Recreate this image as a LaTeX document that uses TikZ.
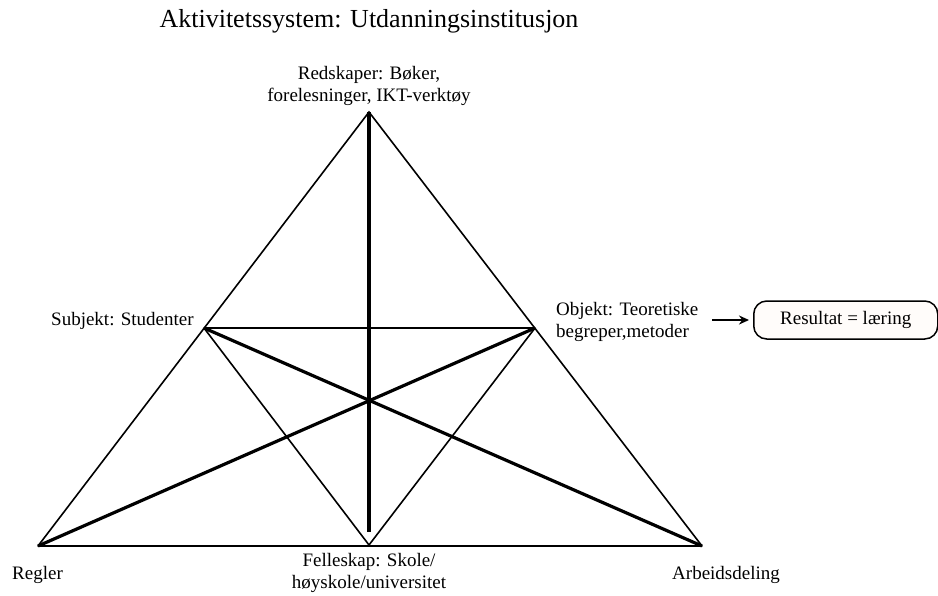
\documentclass[tikz,border=0pt]{standalone}
\usepackage{fontspec}
\setmainfont{Liberation Serif}
\usetikzlibrary{arrows.meta}
\begin{document}
\begin{tikzpicture}[x=1pt,y=-1pt,
  thinline/.style={line width=1.6pt,line cap=round},
  midline/.style={line width=2.2pt},
  thickline/.style={line width=3.2pt},
  lbl/.style={inner sep=0pt,font=\fontsize{19}{22}\selectfont,align=center},
  lbll/.style={lbl,align=left},
  resbox/.style={draw,line width=1.5pt,rounded corners=13pt,fill=red!2!orange!2!white,
    minimum width=184pt,minimum height=38pt,inner sep=0pt,font=\fontsize{19}{22}\selectfont}]
\useasboundingbox (0,0) rectangle (938,595);
% corners of the activity triangle
\coordinate (T) at (369,112);
\coordinate (L) at (38,546);
\coordinate (R) at (702,546);
\coordinate (S) at (204,328);
\coordinate (O) at (535,328);
\coordinate (V) at (369,545);
\coordinate (Vend) at (369,532);
% outer triangle
\draw[thinline] (L) -- (T) -- (R);
\draw[midline] (L) -- (R);
% inner lines
\draw[midline] (S) -- (O);
\draw[thinline] (S) -- (V) -- (O);
\draw[thickline] (S) -- (R);
\draw[thickline] (O) -- (L);
\draw[thickline] (T) -- (Vend);
% labels
\node[inner sep=0pt,font=\fontsize{26}{30}\selectfont] (title) at (369,21) {Aktivitetssystem: Utdanningsinstitusjon};
\node[lbl] (redskap) at (369,86) {Redskaper: Bøker,\\forelesninger, IKT-verktøy};
\node[lbl,anchor=west] (subj) at (51,321) {Subjekt: Studenter};
\node[lbll,anchor=west] (obj) at (556,322) {Objekt: Teoretiske\\begreper,metoder};
\node[lbl,anchor=west] (regler) at (12,575) {Regler};
\node[lbl] (felles) at (369,573) {Felleskap: Skole/\\høyskole/universitet};
\node[lbl,anchor=west] (arb) at (672,575) {Arbeidsdeling};
% outcome
\node[resbox,anchor=west] (res) at (753,320) {Resultat = læring};
\coordinate (arrstart) at (712,320);
\draw[line width=2pt,-{Stealth[length=10pt,width=9pt]}] (arrstart) -- ([xshift=-4pt]res.west);
\end{tikzpicture}
\end{document}
